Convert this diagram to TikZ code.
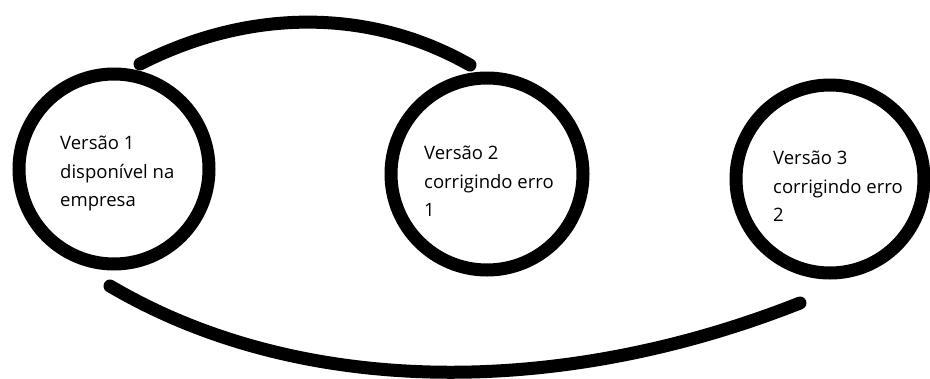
\documentclass[tikz,border=0pt]{standalone}
\usepackage{fontspec}
\setmainfont{Open Sans}
\begin{document}
\begin{tikzpicture}[x=1pt,y=-1pt,
  ring/.style={draw=black,line width=13pt,circle,inner sep=0pt,minimum size=#1},
  txt/.style={anchor=north west,align=left,inner sep=0pt,font=\fontsize{18.5}{28.5}\selectfont},
  arcline/.style={draw=black,line width=13pt,line cap=round}]
\useasboundingbox (0,0) rectangle (930,378);
\node[ring=190pt] (c1) at (114,169) {};
\node[ring=192pt] (c2) at (487,174) {};
\node[ring=188pt] (c3) at (830,179) {};
\node[txt] (t1) at (60,136) {Versão 1\\disponível na\\empresa};
\node[txt] (t2) at (424,146) {Versão 2\\corrigindo erro\\1};
\node[txt] (t3) at (773,151) {Versão 3\\corrigindo erro\\2};
\coordinate (a1) at (140,64);
\coordinate (a2) at (470,65);
\coordinate (b1) at (110,286);
\coordinate (b2) at (800,303);
\draw[arcline] (a1) .. controls (250,8) and (370,8) .. (a2);
\draw[arcline] (b1) .. controls (300,398) and (560,398) .. (b2);
\end{tikzpicture}
\end{document}
